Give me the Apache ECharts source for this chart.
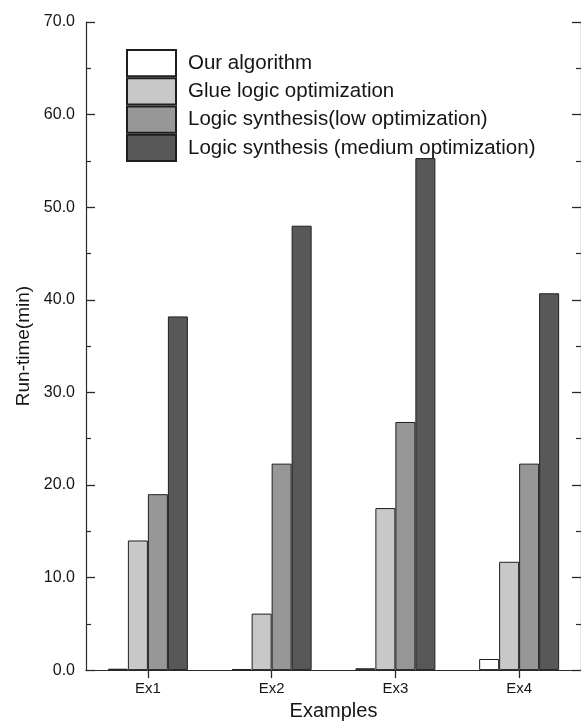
<!DOCTYPE html>
<html>
<head>
<meta charset="utf-8">
<script src="https://cdn.jsdelivr.net/npm/echarts@6/dist/echarts.min.js"></script>
<style>
html,body{margin:0;padding:0;background:#fff;overflow:hidden;}
#chart{width:581px;height:726px;}
</style>
</head>
<body>
<div id="chart"></div>
<script>
var categories = ['Ex1', 'Ex2', 'Ex3', 'Ex4'];
var ourAlgorithm = [0.15, 0.1, 0.2, 1.2];
var glueLogic = [14.0, 6.1, 17.5, 11.7];
var lowOpt = [19.0, 22.3, 26.8, 22.3];
var mediumOpt = [38.2, 48.0, 55.3, 40.7];
var seriesNames = ['Our algorithm', 'Glue logic optimization', 'Logic synthesis(low optimization)', 'Logic synthesis (medium optimization)'];
var seriesColors = ['#ffffff', '#c8c8c8', '#979797', '#585858'];
var yTicks = [0, 10, 20, 30, 40, 50, 60, 70];

var allData = [ourAlgorithm, glueLogic, lowOpt, mediumOpt];
var FONT = '"Liberation Sans", Arial, Helvetica, sans-serif';
var axisCol = '#2a2a2a';

var chart = echarts.init(document.getElementById('chart'), null, {renderer: 'canvas'});
var series = allData.map(function (d, i) {
  return {
    name: seriesNames[i],
    type: 'bar',
    data: d,
    barWidth: 20,
    barGap: '0%',
    itemStyle: {color: seriesColors[i], borderColor: '#1e1e1e', borderWidth: 1},
    emphasis: {disabled: true}
  };
});

chart.setOption({
  animation: false,
  backgroundColor: '#ffffff',
  textStyle: {fontFamily: FONT},
  legend: {
    orient: 'vertical',
    left: 121,
    top: 44,
    itemWidth: 49,
    itemHeight: 26.25,
    itemGap: 0,
    icon: 'rect',
    data: seriesNames,
    textStyle: {fontFamily: FONT, fontSize: 20.5, color: '#151515', padding: [0, 0, 0, 7]},
    selectedMode: false
  },
  grid: {left: 86, top: 22, width: 499, bottom: 47, containLabel: false},
  xAxis: [{
    type: 'category',
    data: categories,
    position: 'bottom',
    axisLine: {lineStyle: {color: axisCol, width: 1.2}},
    axisTick: {show: false},
    axisLabel: {fontFamily: FONT, fontSize: 15, color: '#151515', margin: 11},
    name: 'Examples',
    nameLocation: 'middle',
    nameGap: 26,
    nameTextStyle: {fontFamily: FONT, fontSize: 20, color: '#151515'}
  }, {
    type: 'category',
    data: categories,
    position: 'top',
    axisLine: {lineStyle: {color: axisCol, width: 1.2}},
    axisTick: {show: true, inside: true, alignWithLabel: true, length: 8, lineStyle: {color: axisCol, width: 1.3}},
    axisLabel: {show: false}
  }],
  yAxis: [{
    type: 'value',
    min: yTicks[0],
    max: yTicks[yTicks.length - 1],
    interval: 10,
    position: 'left',
    axisLine: {show: true, lineStyle: {color: axisCol, width: 1.2}},
    axisTick: {show: true, inside: true, length: 9, lineStyle: {color: axisCol, width: 1.3}},
    minorTick: {show: true, splitNumber: 2, length: 5, lineStyle: {color: axisCol, width: 1.2}},
    splitLine: {show: false},
    axisLabel: {fontFamily: FONT, fontSize: 16, color: '#151515', margin: 11,
      formatter: function (v) { return v.toFixed(1); }},
    name: 'Run-time(min)',
    nameLocation: 'middle',
    nameGap: 52,
    nameTextStyle: {fontFamily: FONT, fontSize: 19, color: '#151515'}
  }, {
    type: 'value',
    min: yTicks[0],
    max: yTicks[yTicks.length - 1],
    interval: 10,
    position: 'right',
    axisLine: {show: true, lineStyle: {color: axisCol, width: 1.2}},
    axisTick: {show: true, inside: true, length: 9, lineStyle: {color: axisCol, width: 1.3}},
    minorTick: {show: true, splitNumber: 2, length: 5, lineStyle: {color: axisCol, width: 1.2}},
    splitLine: {show: false},
    axisLabel: {show: false}
  }],
  series: series
});
</script>
</body>
</html>
